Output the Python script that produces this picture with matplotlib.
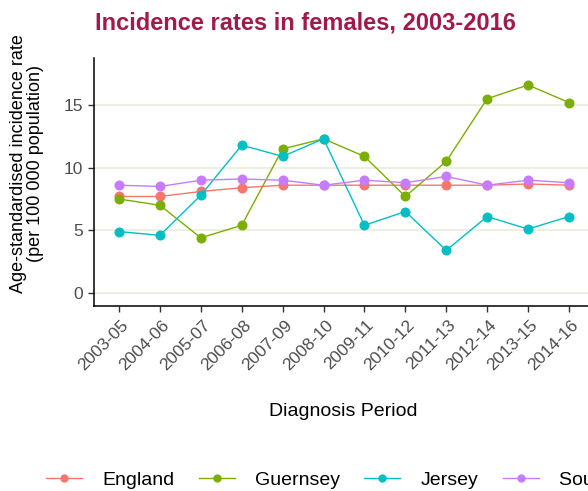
import matplotlib
matplotlib.use("Agg")
import matplotlib.pyplot as plt
from matplotlib.transforms import ScaledTranslation

plt.rcParams['font.family'] = ['Liberation Sans', 'DejaVu Sans']

periods = ['2003-05', '2004-06', '2005-07', '2006-08', '2007-09', '2008-10',
           '2009-11', '2010-12', '2011-13', '2012-14', '2013-15', '2014-16']
england = [7.7, 7.7, 8.1, 8.4, 8.6, 8.6, 8.6, 8.6, 8.6, 8.6, 8.7, 8.6]
guernsey = [7.5, 7.0, 4.4, 5.4, 11.5, 12.3, 10.9, 7.7, 10.5, 15.5, 16.6, 15.2]
jersey = [4.9, 4.6, 7.8, 11.8, 10.9, 12.3, 5.4, 6.5, 3.4, 6.1, 5.1, 6.1]
south_west = [8.6, 8.5, 9.0, 9.1, 9.0, 8.6, 9.0, 8.8, 9.3, 8.6, 9.0, 8.8]

series = [('England', england, '#F8766D'),
          ('Guernsey', guernsey, '#7CAE00'),
          ('Jersey', jersey, '#00BFC4'),
          ('South West', south_west, '#C77CFF')]

fig = plt.figure(figsize=(5.88, 4.91), dpi=100)
# right edge runs a little past the figure, like the cropped original
ax = fig.add_axes([0.1607, 0.3778, 0.8486, 0.504])

x = list(range(len(periods)))
for name, vals, col in series:
    ax.plot(x, vals, color=col, lw=1.0, marker='o', markersize=6.2, label=name)

ax.set_xlim(-0.6, len(periods) - 1 + 0.6)
ax.set_ylim(-1.0, 18.75)
ax.set_yticks([0, 5, 10, 15])
ax.set_xticks(x)
ax.set_xticklabels(periods, rotation=45, ha='right', va='center', rotation_mode='anchor')
ax.tick_params(labelsize=12.5, labelcolor='#4D4D4D', color='#333333', length=4.5, width=1.0)
ax.tick_params(axis='x', pad=8)
shift = ScaledTranslation(7 / 100, 0, fig.dpi_scale_trans)
for lab in ax.get_xticklabels():
    lab.set_transform(lab.get_transform() + shift)

ax.yaxis.grid(True, color='#ECECDC', lw=1.2)
ax.set_axisbelow(True)
for s in ['top', 'right']:
    ax.spines[s].set_visible(False)
ax.spines['left'].set_linewidth(1.1)
ax.spines['bottom'].set_linewidth(1.1)

ax.set_xlabel('Diagnosis Period', fontsize=14, va='center')
ax.xaxis.set_label_coords(0.499, -0.430)
ax.set_ylabel('Age-standardised incidence rate\n(per 100 000 population)',
              fontsize=13, va='center', linespacing=1.05)
ax.yaxis.set_label_coords(-0.135, 0.575)

fig.text(0.1616, 0.953, 'Incidence rates in females, 2003-2016', fontsize=17,
         fontweight='bold', color='#A11A4C', va='center')

fig.legend(loc='center left', bbox_to_anchor=(0.078, 0.022), ncol=4, frameon=False,
           fontsize=14, handlelength=1.85, handletextpad=1.05, columnspacing=1.25,
           borderpad=0, borderaxespad=0, markerscale=0.8)

plt.savefig('out.png', dpi=100)
